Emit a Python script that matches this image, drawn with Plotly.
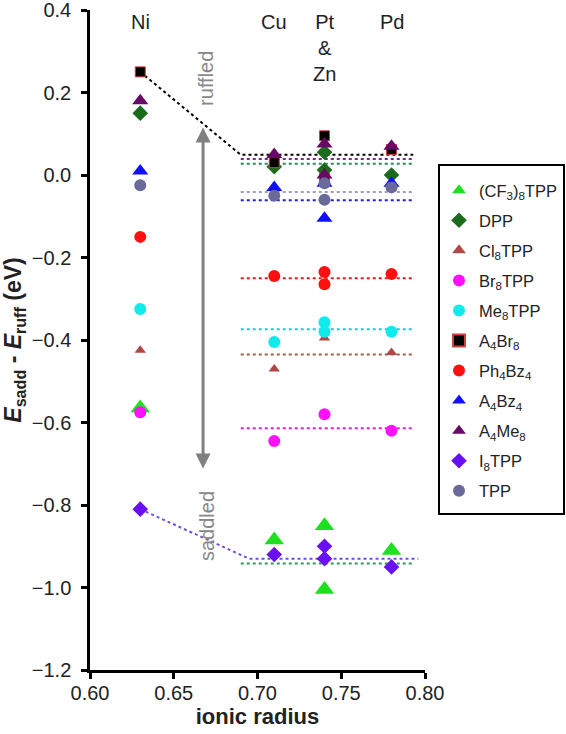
import plotly.graph_objects as go

# ionic radii of the metals
metal_names = ["Ni", "Cu", "Pt<br>&<br>Zn", "Pd"]
metal_radius = [0.63, 0.71, 0.74, 0.78]

series_names = ["(CF<sub>3</sub>)<sub>8</sub>TPP", "DPP", "Cl<sub>8</sub>TPP", "Br<sub>8</sub>TPP",
                "Me<sub>8</sub>TPP", "A<sub>4</sub>Br<sub>8</sub>", "Ph<sub>4</sub>Bz<sub>4</sub>",
                "A<sub>4</sub>Bz<sub>4</sub>", "A<sub>4</sub>Me<sub>8</sub>", "I<sub>8</sub>TPP", "TPP"]

# x (ionic radius) and y (E_sadd - E_ruff, eV) per series
cf3_x = [0.63, 0.71, 0.74, 0.74, 0.78]
cf3_y = [-0.565, -0.885, -0.85, -1.005, -0.91]
dpp_x = [0.63, 0.71, 0.74, 0.74, 0.78]
dpp_y = [0.15, 0.02, 0.055, 0.012, 0.0]
cl8_x = [0.63, 0.71, 0.74, 0.78]
cl8_y = [-0.425, -0.47, -0.395, -0.43]
br8_x = [0.63, 0.71, 0.74, 0.78]
br8_y = [-0.575, -0.645, -0.58, -0.62]
me8_x = [0.63, 0.71, 0.74, 0.74, 0.78]
me8_y = [-0.325, -0.405, -0.357, -0.38, -0.38]
a4br8_x = [0.63, 0.71, 0.74, 0.74, 0.78]
a4br8_y = [0.25, 0.03, 0.095, -0.008, 0.062]
ph4_x = [0.63, 0.71, 0.74, 0.74, 0.78]
ph4_y = [-0.15, -0.245, -0.235, -0.265, -0.24]
a4bz4_x = [0.63, 0.71, 0.74, 0.74, 0.78]
a4bz4_y = [0.01, -0.03, -0.02, -0.105, -0.02]
a4me8_x = [0.63, 0.71, 0.74, 0.74, 0.78]
a4me8_y = [0.18, 0.05, 0.075, 0.0, 0.07]
i8_x = [0.63, 0.71, 0.74, 0.74, 0.78]
i8_y = [-0.81, -0.92, -0.90, -0.93, -0.95]
tpp_x = [0.63, 0.71, 0.74, 0.74, 0.78]
tpp_y = [-0.025, -0.05, -0.02, -0.06, -0.03]

# dotted average levels (Cu/Pt/Pd)
level_names = ["A4Br8", "A4Me8", "DPP", "TPP", "A4Bz4", "Ph4Bz4", "Me8TPP", "Cl8TPP", "Br8TPP", "I8TPP", "CF3"]
level_values = [0.049, 0.039, 0.027, -0.041, -0.061, -0.25, -0.374, -0.435, -0.614, -0.93, -0.942]
level_x_start = [0.69, 0.69, 0.69, 0.69, 0.69, 0.69, 0.69, 0.69, 0.69, 0.695, 0.69]
level_x_end = [0.793, 0.793, 0.793, 0.793, 0.793, 0.793, 0.793, 0.793, 0.793, 0.796, 0.793]
level_colors = ["#000000", "#7a2a7a", "#2e8a5a", "#a0a0b0", "#2020e0", "#e02020", "#20c8e0",
                "#a06040", "#e020e0", "#7050e0", "#2e9a5a"]

FONT = "Arial, Liberation Sans, sans-serif"
fig = go.Figure()

# dotted lines
for nm, lv, xs, xe, c in zip(level_names, level_values, level_x_start, level_x_end, level_colors):
    xx, yy = [xs, xe], [lv, lv]
    if nm == "A4Br8":
        xx, yy = [a4br8_x[0], xs, xe], [a4br8_y[0], lv, lv]
    if nm == "I8TPP":
        xx, yy = [i8_x[0], xs, xe], [i8_y[0], lv, lv]
    fig.add_trace(go.Scatter(x=xx, y=yy, mode="lines", showlegend=False, hoverinfo="skip",
                             line=dict(color=c, width=2, dash="dot")))

marker_specs = [
    (cf3_x, cf3_y, "triangle-up", "#1ee01e", 17, None),
    (dpp_x, dpp_y, "diamond", "#1a6b1a", 12, None),
    (cl8_x, cl8_y, "triangle-up", "#b04848", 10, None),
    (br8_x, br8_y, "circle", "#ff10ff", 12, None),
    (me8_x, me8_y, "circle", "#10eaea", 12, None),
    (a4br8_x, a4br8_y, "square", "#000000", 10, "#d04040"),
    (ph4_x, ph4_y, "circle", "#ff1010", 12, None),
    (a4bz4_x, a4bz4_y, "triangle-up", "#1010ff", 14, None),
    (a4me8_x, a4me8_y, "triangle-up", "#660a66", 14, None),
    (i8_x, i8_y, "diamond", "#6a10f0", 12, None),
    (tpp_x, tpp_y, "circle", "#6a6a9a", 12, None),
]
for i, (name, (xs, ys, sym, col, sz, lc)) in enumerate(zip(series_names, marker_specs)):
    fig.add_trace(go.Scatter(x=xs, y=ys, mode="markers", name=name, legendgroup=f"g{i}",
                             marker=dict(symbol=sym, color=col, size=sz,
                                         line=dict(color=lc if lc else col, width=1 if lc else 0))))

# metal labels
for nm, r in zip(metal_names, metal_radius):
    fig.add_annotation(x=r, y=0.40, text=nm, showarrow=False, yanchor="top", borderpad=0,
                       font=dict(family=FONT, size=20, color="#222"), align="center")

# double-headed arrow
fig.add_annotation(x=0.6675, y=0.115, ax=0.6675, ay=-0.715, xref="x", yref="y", axref="x", ayref="y",
                   text="", showarrow=True, arrowhead=2, startarrowhead=2, arrowside="end+start",
                   arrowwidth=3, arrowcolor="#808080", arrowsize=1)
fig.add_annotation(x=0.6695, y=0.234, text="ruffled", textangle=-90, showarrow=False,
                   font=dict(family=FONT, size=20, color="#888888"))
fig.add_annotation(x=0.6695, y=-0.85, text="saddled", textangle=-90, showarrow=False,
                   font=dict(family=FONT, size=20, color="#888888"))

# legend frame
fig.add_shape(type="rect", xref="paper", yref="paper", x0=1.0418, x1=1.4149, y0=0.2364, y1=0.7652,
              line=dict(color="black", width=2), fillcolor="rgba(0,0,0,0)")

fig.update_layout(
    width=566, height=734,
    margin=dict(l=90, r=141, t=10, b=64, autoexpand=False),
    plot_bgcolor="white", paper_bgcolor="white",
    font=dict(family=FONT, size=20, color="#222"),
    legend=dict(x=1.0418, y=0.753, xanchor="left", yanchor="top",
                borderwidth=0, bgcolor="rgba(0,0,0,0)",
                font=dict(family=FONT, size=16.5, color="#222"),
                itemsizing="constant", tracegroupgap=5.6),
    xaxis=dict(range=[0.6, 0.8], dtick=0.05, tickformat=".2f", showgrid=False, zeroline=False,
               showline=True, linecolor="black", linewidth=2.5, ticks="outside", ticklen=6,
               tickwidth=2.5, tickcolor="black", automargin=False, ticklabelstandoff=-3,
               ticklabeloverflow="allow",
               tickfont=dict(family=FONT, size=20, color="#222"),
               title=dict(text="<b>ionic radius</b>", font=dict(family=FONT, size=22, color="#222"),
                          standoff=4)),
    yaxis=dict(range=[-1.2, 0.4], dtick=0.2, tickformat=".1f", showgrid=False, zeroline=False,
               showline=True, linecolor="black", linewidth=2.5, ticks="outside", ticklen=6,
               tickwidth=2.5, tickcolor="black", automargin=False, ticklabelstandoff=6,
               ticklabeloverflow="allow",
               tickfont=dict(family=FONT, size=20, color="#222"),
               title=dict(text="<b><i>E</i><sub>sadd</sub> - <i>E</i><sub>ruff</sub> (eV)</b>",
                          font=dict(family=FONT, size=23, color="#222"), standoff=6)),
)

fig.write_html("out.html",
               config={"responsive": False, "displayModeBar": False},
               post_script="document.body.style.margin='0';"
                           "document.body.style.overflow='hidden';"
                           "document.documentElement.style.overflow='hidden';")
